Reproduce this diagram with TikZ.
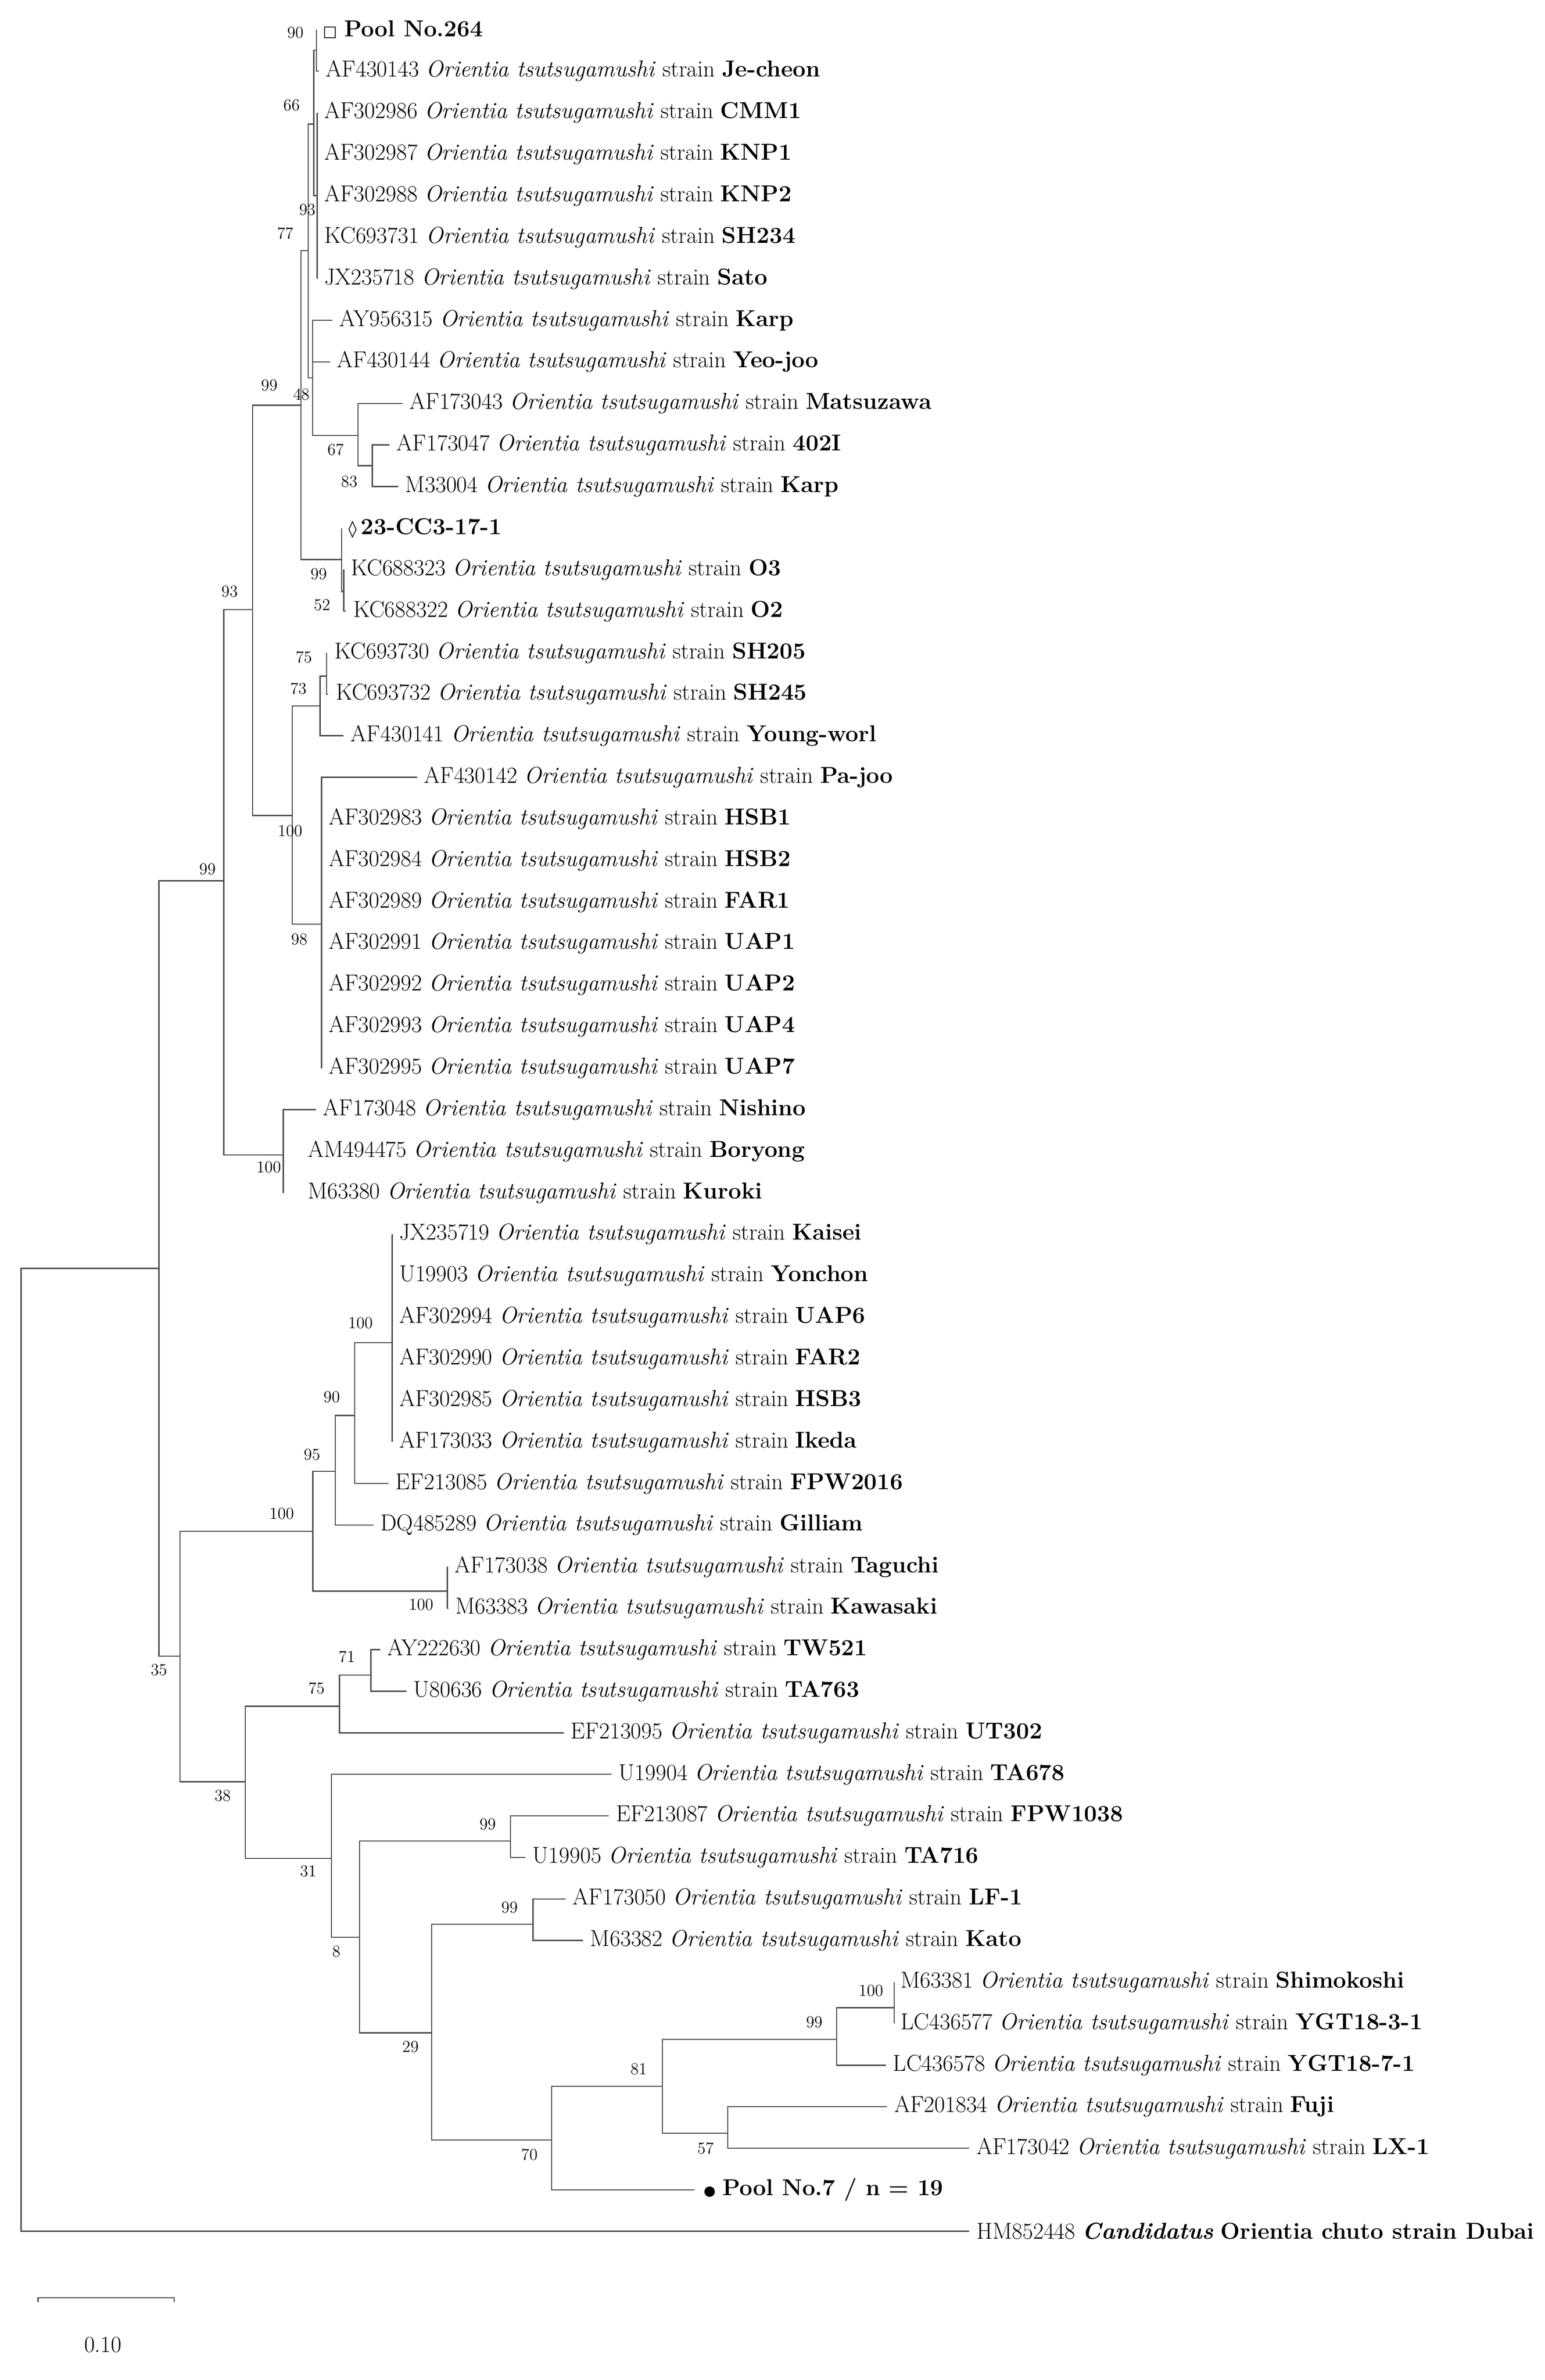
\documentclass[tikz,border=0pt]{standalone}
\usepackage{fontspec}
\newfontfamily\symf{DejaVu Sans}
\newcommand{\ot}[2]{#1 \textit{Orientia tsutsugamushi} strain \textbf{#2}}
\begin{document}
\begin{tikzpicture}[x=1pt,y=-1pt,
  br/.style={draw=black!70,line width=0.8pt},
  bs/.style={inner sep=0pt,font=\fontsize{11}{12}\selectfont},
  tx/.style={anchor=west,inner sep=0pt,font=\fontsize{15.2}{17}\selectfont}]
\useasboundingbox (0,0) rectangle (1020,1571.4);
% tips
\coordinate (t1) at (209.0,19.5);
\coordinate (t2) at (210.5,46.9);
\coordinate (t3) at (209.4,74.4);
\coordinate (t4) at (209.4,101.8);
\coordinate (t5) at (209.4,129.2);
\coordinate (t6) at (209.4,156.7);
\coordinate (t7) at (209.4,184.1);
\coordinate (t8) at (219.4,211.5);
\coordinate (t9) at (217.8,238.9);
\coordinate (t10) at (265.7,266.4);
\coordinate (t11) at (257.2,293.8);
\coordinate (t12) at (263.0,321.2);
\coordinate (t13) at (225.6,348.7);
\coordinate (t14) at (227.0,376.1);
\coordinate (t15) at (228.5,403.5);
\coordinate (t16) at (215.7,431.0);
\coordinate (t17) at (216.5,458.4);
\coordinate (t18) at (226.9,485.8);
\coordinate (t19) at (275.3,513.2);
\coordinate (t20) at (212.3,540.7);
\coordinate (t21) at (212.3,568.1);
\coordinate (t22) at (212.3,595.5);
\coordinate (t23) at (212.3,622.9);
\coordinate (t24) at (212.3,650.4);
\coordinate (t25) at (212.3,677.8);
\coordinate (t26) at (212.3,705.2);
\coordinate (t27) at (208.6,732.7);
\coordinate (t28) at (187.5,760.1);
\coordinate (t29) at (187.5,787.5);
\coordinate (t30) at (258.9,814.9);
\coordinate (t31) at (258.9,842.4);
\coordinate (t32) at (258.9,869.8);
\coordinate (t33) at (258.9,897.2);
\coordinate (t34) at (258.9,924.7);
\coordinate (t35) at (258.9,952.1);
\coordinate (t36) at (256.6,979.5);
\coordinate (t37) at (246.5,1006.9);
\coordinate (t38) at (295.4,1034.4);
\coordinate (t39) at (296.0,1061.8);
\coordinate (t40) at (251.0,1089.2);
\coordinate (t41) at (268.3,1116.7);
\coordinate (t42) at (372.2,1144.1);
\coordinate (t43) at (403.8,1171.5);
\coordinate (t44) at (402.0,1198.9);
\coordinate (t45) at (347.0,1226.4);
\coordinate (t46) at (373.5,1253.8);
\coordinate (t47) at (385.0,1281.2);
\coordinate (t48) at (590.4,1308.7);
\coordinate (t49) at (590.4,1336.1);
\coordinate (t50) at (584.9,1363.5);
\coordinate (t51) at (585.7,1390.9);
\coordinate (t52) at (640.0,1418.4);
\coordinate (t53) at (458.4,1445.8);
\coordinate (t54) at (640.0,1473.2);
% internal nodes
\coordinate (nA) at (209.0,33.2);
\coordinate (nB) at (209.4,129.2);
\coordinate (nC) at (207.1,82.0);
\coordinate (nF) at (245.8,307.5);
\coordinate (nE) at (236.4,287.5);
\coordinate (nD) at (206.3,249.5);
\coordinate (nG) at (203.5,165.5);
\coordinate (nI) at (227.0,390.5);
\coordinate (nH) at (225.6,369.5);
\coordinate (nJ) at (198.7,267.5);
\coordinate (nK) at (215.7,446.5);
\coordinate (nL) at (211.3,466.0);
\coordinate (nM) at (212.3,610.1);
\coordinate (nN) at (193.0,538.5);
\coordinate (nO) at (166.7,402.5);
\coordinate (nP) at (187.0,762.5);
\coordinate (nQ) at (147.7,581.5);
\coordinate (nR) at (258.9,886.5);
\coordinate (nS) at (234.2,934.5);
\coordinate (nT) at (221.4,971.5);
\coordinate (nU) at (295.4,1050.5);
\coordinate (nV) at (206.6,1011.0);
\coordinate (nW) at (244.8,1106.0);
\coordinate (nX) at (224.1,1126.5);
\coordinate (nY) at (337.0,1215.5);
\coordinate (nZ) at (351.8,1270.5);
\coordinate (nAA) at (590.4,1325.5);
\coordinate (nAB) at (552.3,1346.5);
\coordinate (nAC) at (480.5,1408.5);
\coordinate (nAD) at (437.4,1377.5);
\coordinate (nAE) at (364.2,1412.9);
\coordinate (nAF) at (285.0,1342.1);
\coordinate (nAG) at (237.4,1279.1);
\coordinate (nAH) at (218.8,1227.0);
\coordinate (nAI) at (162.0,1176.3);
\coordinate (nAJ) at (118.8,1093.5);
\coordinate (nAK) at (104.9,837.5);
\coordinate (root) at (13.9,1155.0);
% branches
\foreach \p/\c in {nA/t1,nA/t2,nB/t3,nB/t4,nB/t5,nB/t6,nB/t7,nC/nA,nC/nB,
  nF/t11,nF/t12,nE/t10,nE/nF,nD/t8,nD/t9,nD/nE,nG/nC,nG/nD,
  nI/t14,nI/t15,nH/t13,nH/nI,nJ/nG,nJ/nH,nK/t16,nK/t17,nL/nK,nL/t18,
  nM/t19,nM/t20,nM/t21,nM/t22,nM/t23,nM/t24,nM/t25,nM/t26,nN/nL,nN/nM,
  nO/nJ,nO/nN,nP/t27,nP/t28,nP/t29,nQ/nO,nQ/nP,
  nR/t30,nR/t31,nR/t32,nR/t33,nR/t34,nR/t35,nS/nR,nS/t36,nT/nS,nT/t37,
  nU/t38,nU/t39,nV/nT,nV/nU,nW/t40,nW/t41,nX/nW,nX/t42,
  nY/t44,nY/t45,nZ/t46,nZ/t47,nAA/t48,nAA/t49,nAB/nAA,nAB/t50,
  nAC/t51,nAC/t52,nAD/nAB,nAD/nAC,nAE/nAD,nAE/t53,nAF/nZ,nAF/nAE,
  nAG/nY,nAG/nAF,nAH/t43,nAH/nAG,nAI/nX,nAI/nAH,nAJ/nV,nAJ/nAI,
  nAK/nQ,nAK/nAJ,root/nAK,root/t54}
  \draw[br] (\p) |- (\c);
% tip labels
\node[tx] (l1) at ([xshift=4pt]t1) {{\symf\fontsize{10}{12}\selectfont □}\ \textbf{Pool No.264}};
\node[tx] (l2) at ([xshift=4.5pt]t2) {\ot{AF430143}{Je-cheon}};
\node[tx] (l3) at ([xshift=4.5pt]t3) {\ot{AF302986}{CMM1}};
\node[tx] (l4) at ([xshift=4.5pt]t4) {\ot{AF302987}{KNP1}};
\node[tx] (l5) at ([xshift=4.5pt]t5) {\ot{AF302988}{KNP2}};
\node[tx] (l6) at ([xshift=4.5pt]t6) {\ot{KC693731}{SH234}};
\node[tx] (l7) at ([xshift=4.5pt]t7) {\ot{JX235718}{Sato}};
\node[tx] (l8) at ([xshift=4.5pt]t8) {\ot{AY956315}{Karp}};
\node[tx] (l9) at ([xshift=4.5pt]t9) {\ot{AF430144}{Yeo-joo}};
\node[tx] (l10) at ([xshift=4.5pt]t10) {\ot{AF173043}{Matsuzawa}};
\node[tx] (l11) at ([xshift=4.5pt]t11) {\ot{AF173047}{402I}};
\node[tx] (l12) at ([xshift=4.5pt]t12) {\ot{M33004}{Karp}};
\node[tx] (l13) at ([xshift=4.5pt]t13) {{\symf\fontsize{11}{12}\selectfont ◊}\,\textbf{23-CC3-17-1}};
\node[tx] (l14) at ([xshift=4.5pt]t14) {\ot{KC688323}{O3}};
\node[tx] (l15) at ([xshift=4.5pt]t15) {\ot{KC688322}{O2}};
\node[tx] (l16) at ([xshift=5pt]t16) {\ot{KC693730}{SH205}};
\node[tx] (l17) at ([xshift=5pt]t17) {\ot{KC693732}{SH245}};
\node[tx] (l18) at ([xshift=4.5pt]t18) {\ot{AF430141}{Young-worl}};
\node[tx] (l19) at ([xshift=4.5pt]t19) {\ot{AF430142}{Pa-joo}};
\node[tx] (l20) at ([xshift=4.5pt]t20) {\ot{AF302983}{HSB1}};
\node[tx] (l21) at ([xshift=4.5pt]t21) {\ot{AF302984}{HSB2}};
\node[tx] (l22) at ([xshift=4.5pt]t22) {\ot{AF302989}{FAR1}};
\node[tx] (l23) at ([xshift=4.5pt]t23) {\ot{AF302991}{UAP1}};
\node[tx] (l24) at ([xshift=4.5pt]t24) {\ot{AF302992}{UAP2}};
\node[tx] (l25) at ([xshift=4.5pt]t25) {\ot{AF302993}{UAP4}};
\node[tx] (l26) at ([xshift=4.5pt]t26) {\ot{AF302995}{UAP7}};
\node[tx] (l27) at ([xshift=4.5pt]t27) {\ot{AF173048}{Nishino}};
\node[tx] (l28) at ([xshift=15.5pt]t28) {\ot{AM494475}{Boryong}};
\node[tx] (l29) at ([xshift=15.5pt]t29) {\ot{M63380}{Kuroki}};
\node[tx] (l30) at ([xshift=4.5pt]t30) {\ot{JX235719}{Kaisei}};
\node[tx] (l31) at ([xshift=4.5pt]t31) {\ot{U19903}{Yonchon}};
\node[tx] (l32) at ([xshift=4.5pt]t32) {\ot{AF302994}{UAP6}};
\node[tx] (l33) at ([xshift=4.5pt]t33) {\ot{AF302990}{FAR2}};
\node[tx] (l34) at ([xshift=4.5pt]t34) {\ot{AF302985}{HSB3}};
\node[tx] (l35) at ([xshift=4.5pt]t35) {\ot{AF173033}{Ikeda}};
\node[tx] (l36) at ([xshift=4.5pt]t36) {\ot{EF213085}{FPW2016}};
\node[tx] (l37) at ([xshift=4.5pt]t37) {\ot{DQ485289}{Gilliam}};
\node[tx] (l38) at ([xshift=4.5pt]t38) {\ot{AF173038}{Taguchi}};
\node[tx] (l39) at ([xshift=4.5pt]t39) {\ot{M63383}{Kawasaki}};
\node[tx] (l40) at ([xshift=4.5pt]t40) {\ot{AY222630}{TW521}};
\node[tx] (l41) at ([xshift=4.5pt]t41) {\ot{U80636}{TA763}};
\node[tx] (l42) at ([xshift=4.5pt]t42) {\ot{EF213095}{UT302}};
\node[tx] (l43) at ([xshift=4.5pt]t43) {\ot{U19904}{TA678}};
\node[tx] (l44) at ([xshift=4.5pt]t44) {\ot{EF213087}{FPW1038}};
\node[tx] (l45) at ([xshift=4.5pt]t45) {\ot{U19905}{TA716}};
\node[tx] (l46) at ([xshift=4.5pt]t46) {\ot{AF173050}{LF-1}};
\node[tx] (l47) at ([xshift=4.5pt]t47) {\ot{M63382}{Kato}};
\node[tx] (l48) at ([xshift=4pt]t48) {\ot{M63381}{Shimokoshi}};
\node[tx] (l49) at ([xshift=4pt]t49) {\ot{LC436577}{YGT18-3-1}};
\node[tx] (l50) at ([xshift=4.5pt]t50) {\ot{LC436578}{YGT18-7-1}};
\node[tx] (l51) at ([xshift=4.5pt]t51) {\ot{AF201834}{Fuji}};
\node[tx] (l52) at ([xshift=4.5pt]t52) {\ot{AF173042}{LX-1}};
\node[tx] (l53) at ([xshift=6pt]t53) {{\symf\fontsize{9}{12}\selectfont ●}\ \textbf{Pool No.7 / n = 19}};
\node[tx] (l54) at ([xshift=4.5pt]t54) {HM852448 \textbf{\textit{Candidatus}} \textbf{Orientia chuto strain Dubai}};
% bootstrap values
\foreach \v/\x/\y [count=\i] in {90/195/21.5,66/192.5/69.5,93/202.9/138.5,77/188.3/154,99/177.8/254.5,
  48/199/260.5,67/221.6/297,83/230.6/318,99/210.4/379,52/212.6/399.5,93/151.6/390.5,
  75/200.6/434,73/197/454.5,100/191.5/548.5,98/197.6/620.2,99/137/573.8,100/177.4/770.5,
  100/186/999.5,95/206/960.5,90/219/922.5,100/238/873.5,100/278/1059.5,35/104.9/1102.5,
  71/229/1094,75/209/1114.5,38/147/1185.5,31/203.5/1235.5,8/222/1288.5,99/322/1204.5,
  29/271/1351.5,99/336.4/1259.5,70/349.5/1422.5,81/421.7/1366,99/537.6/1335,
  100/575/1314.5,57/465.8/1418.5}
  \node[bs] (b\i) at (\x,\y) {\v};
% scale bar
\coordinate (s1) at (25,1517);
\coordinate (s2) at (115,1517);
\draw[br] ([yshift=-3pt]s1) -- (s1) -- (s2) -- ([yshift=-3pt]s2);
\node[inner sep=0pt,font=\fontsize{15.2}{17}\selectfont] (sl) at (68,1548) {0.10};
\end{tikzpicture}
\end{document}
